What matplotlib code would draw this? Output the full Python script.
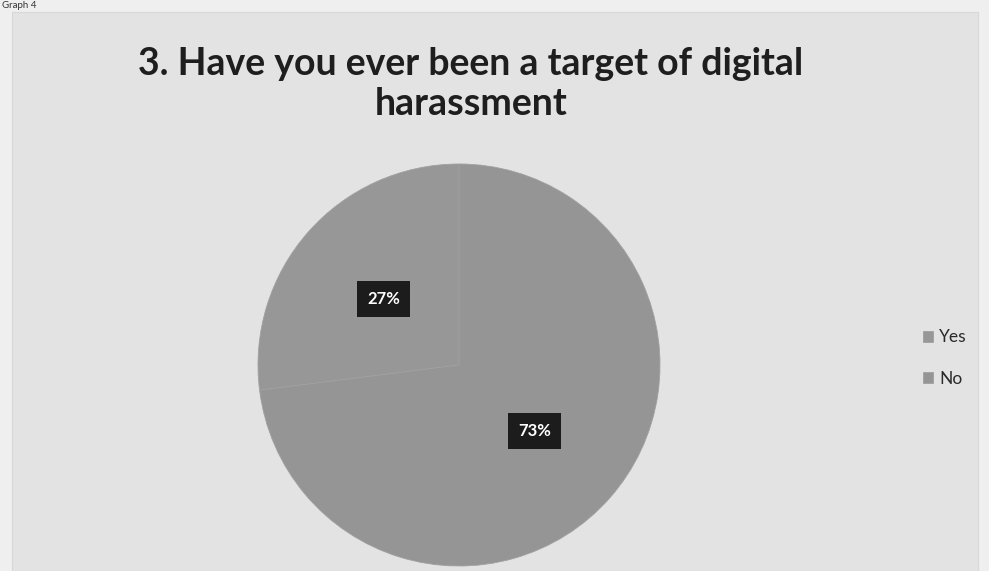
import matplotlib
matplotlib.use("Agg")
import matplotlib.pyplot as plt
from matplotlib.patches import Rectangle
import numpy as np

categories = ["Yes", "No"]
values = [27, 73]
pct_labels = ["27%", "73%"]
title = "3. Have you ever been a target of digital\nharassment"

W, H = 989, 571
fig = plt.figure(figsize=(W / 100, H / 100), dpi=100)
fig.patch.set_facecolor("#efefef")

# chart area panel
fig.patches.append(Rectangle((12 / W, 0), (978 - 12) / W, (H - 12) / H,
                             transform=fig.transFigure, facecolor="#e3e3e3",
                             edgecolor="#d8d8d8", lw=0.8, zorder=-5))

fig.text(2 / W, 1 - 1 / H, "Graph 4", fontsize=7, color="#333333",
         ha="left", va="top", family="Lato")

fig.text(471 / W, 1 - 84 / H, title, fontsize=27, fontweight="bold",
         color="#1e1e1e", ha="center", va="center", family="Lato",
         linespacing=1.22)

cx, cy, r = 459, 365, 201
ax = fig.add_axes([(cx - r) / W, (H - cy - r) / H, 2 * r / W, 2 * r / H])
ax.set_zorder(2)
ax.set_facecolor("none")
colors = ["#979797", "#959595"]
wedges, _ = ax.pie(values, colors=colors, startangle=90, counterclock=True,
                   wedgeprops=dict(edgecolor="#a0a0a0", linewidth=0.6))
ax.set_xlim(-1, 1)
ax.set_ylim(-1, 1)
ax.set_aspect("auto")
ax.axis("off")

start = 90.0
for v, lab in zip(values, pct_labels):
    ang = np.deg2rad(start + 360 * v / 100 / 2)
    start += 360 * v / 100
    x, y = 0.5 * np.cos(ang), 0.5 * np.sin(ang)
    ax.text(x, y, lab, ha="center", va="center", fontsize=12,
            fontweight="bold", color="white", family="Lato",
            bbox=dict(boxstyle="square,pad=0.6", facecolor="#1c1c1c",
                      edgecolor="none"))

leg = fig.legend(wedges, categories, loc="center left",
                 bbox_to_anchor=(907 / W, 1 - 358 / H), frameon=False,
                 handlelength=0.6, handleheight=0.6,
                 handletextpad=0.35, labelspacing=1.45,
                 prop={"family": "Lato", "size": 12.5})
for t in leg.get_texts():
    t.set_color("#2a2a2a")

fig.savefig("out.png", dpi=100, facecolor=fig.get_facecolor())
